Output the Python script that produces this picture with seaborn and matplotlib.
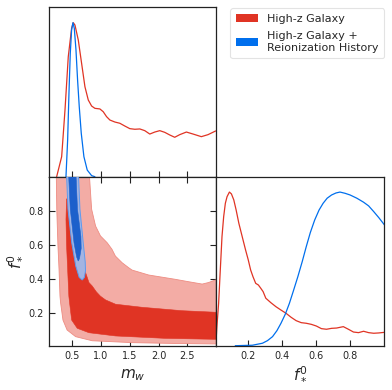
import numpy as np
import pandas as pd
import matplotlib
matplotlib.use("Agg")
import matplotlib.pyplot as plt
import seaborn as sns
from matplotlib.patches import Patch

sns.set_style("ticks")
plt.rcParams["font.family"] = ["DejaVu Sans"]
plt.rcParams["mathtext.fontset"] = "dejavusans"

# ---------------- data ----------------
# 1D marginal of m_w (normalised to peak = 1)
mw_red_x = [0.228, 0.315, 0.373, 0.430, 0.488, 0.517, 0.546, 0.604, 0.662, 0.720, 0.778, 0.836,
            0.893, 0.980, 1.038, 1.096, 1.154, 1.241, 1.327, 1.414, 1.501, 1.588, 1.675, 1.761,
            1.848, 1.935, 2.022, 2.109, 2.195, 2.282, 2.369, 2.485, 2.601, 2.745, 2.861, 2.994]
mw_red_y = [0.0, 0.13, 0.433, 0.779, 0.964, 1.0, 0.985, 0.888, 0.736, 0.584, 0.498, 0.459,
            0.444, 0.44, 0.422, 0.39, 0.368, 0.355, 0.347, 0.329, 0.312, 0.308, 0.31, 0.299,
            0.277, 0.29, 0.299, 0.288, 0.271, 0.256, 0.273, 0.29, 0.277, 0.26, 0.273, 0.297]
mw_blue_x = [0.39, 0.419, 0.442, 0.465, 0.488, 0.511, 0.535, 0.564, 0.592, 0.621, 0.656, 0.702,
             0.76, 0.836, 0.893]
mw_blue_y = [0.0, 0.238, 0.541, 0.801, 0.953, 1.0, 0.963, 0.823, 0.628, 0.455, 0.282, 0.13,
             0.043, 0.007, 0.0]

# 1D marginal of f_*^0 (normalised to peak = 1)
fs_red_x = [0.0095, 0.0154, 0.0254, 0.0353, 0.0453, 0.0552, 0.0651, 0.0751, 0.089, 0.1009, 0.1148,
            0.1287, 0.1446, 0.1644, 0.1843, 0.2002, 0.2141, 0.228, 0.2439, 0.2598, 0.2737, 0.2876,
            0.3035, 0.3333, 0.3631, 0.3929, 0.4227, 0.4525, 0.4823, 0.5121, 0.5419, 0.5717,
            0.6015, 0.6313, 0.6611, 0.691, 0.7208, 0.7604, 0.7902, 0.82, 0.8498, 0.8796, 0.9094,
            0.9392, 0.969, 1.0028]
fs_red_y = [0.016, 0.124, 0.276, 0.493, 0.71, 0.84, 0.927, 0.97, 1.0, 0.988, 0.949,
            0.883, 0.797, 0.71, 0.623, 0.558, 0.493, 0.449, 0.406, 0.395, 0.374, 0.352,
            0.309, 0.28, 0.254, 0.232, 0.211, 0.185, 0.163, 0.15, 0.146, 0.139,
            0.128, 0.111, 0.107, 0.113, 0.115, 0.124, 0.107, 0.089, 0.085, 0.094, 0.085,
            0.081, 0.083, 0.087]
fs_blue_x = [0.1235, 0.224, 0.2836, 0.3134, 0.3432, 0.369, 0.3929, 0.4187, 0.4426, 0.4664, 0.4922,
             0.518, 0.5419, 0.5657, 0.5915, 0.6173, 0.6412, 0.665, 0.691, 0.7168, 0.7406, 0.7704,
             0.8002, 0.84, 0.8796, 0.9094, 0.9392, 0.969, 1.0028]
fs_blue_y = [0.0, 0.003, 0.016, 0.033, 0.059, 0.098, 0.146, 0.206, 0.276, 0.358, 0.449,
             0.547, 0.645, 0.736, 0.818, 0.883, 0.927, 0.96, 0.981, 0.994, 1.0, 0.992,
             0.981, 0.96, 0.934, 0.91, 0.873, 0.834, 0.786]

# 2D credible-region boundaries (m_w, f_*^0)
red_outer_x = [0.22, 0.23, 0.25, 0.27, 0.286, 0.298, 0.338, 0.41, 0.558, 0.846, 1.54, 2.3, 3.05,
               3.05, 2.99, 2.87, 2.76, 2.52, 2.29, 1.83, 1.54, 1.48, 1.367, 1.25, 1.19, 1.107,
               0.99, 0.905, 0.836, 0.79]
red_outer_y = [1.05, 0.81, 0.6, 0.453, 0.30, 0.258, 0.16, 0.102, 0.063, 0.039, 0.028, 0.023, 0.02,
               0.395, 0.395, 0.38, 0.371, 0.385, 0.399, 0.424, 0.453, 0.467, 0.496, 0.535, 0.575,
               0.613, 0.653, 0.711, 0.81, 1.05]
red_inner_x = [0.40, 0.39, 0.40, 0.42, 0.44, 0.454, 0.489, 0.586, 0.79, 1.253, 2.12, 3.05,
               3.05, 2.99, 2.41, 1.715, 1.253, 1.08, 0.99, 0.92, 0.846, 0.79, 0.73, 0.70, 0.66,
               0.6, 0.55]
red_inner_y = [0.87, 0.75, 0.6, 0.45, 0.3, 0.258, 0.16, 0.112, 0.086, 0.067, 0.053, 0.047,
               0.206, 0.206, 0.215, 0.235, 0.253, 0.278, 0.30, 0.325, 0.36, 0.38, 0.44, 0.516, 0.6,
               0.75, 0.87]
blue_outer_x = [0.395, 0.425, 0.49, 0.56, 0.62, 0.673, 0.71, 0.73, 0.725, 0.69, 0.633, 0.603]
blue_outer_y = [1.05, 0.81, 0.613, 0.477, 0.41, 0.395, 0.41, 0.45, 0.5, 0.613, 0.81, 1.05]
blue_inner_x = [0.43, 0.465, 0.53, 0.575, 0.603, 0.625, 0.655, 0.65, 0.59, 0.56]
blue_inner_y = [1.05, 0.81, 0.613, 0.53, 0.506, 0.52, 0.58, 0.65, 0.81, 1.05]

mw_ticks = [0.5, 1.0, 1.5, 2.0, 2.5]
fs_ticks = [0.2, 0.4, 0.6, 0.8]
mw_lim = (0.1, 3.0)
fs_lim = (0.01, 1.0)

legend_labels = ["High-z Galaxy", "High-z Galaxy +\nReionization History"]

RED = "#E03424"
BLUE = "#006FED"
RED_LIGHT = "#F3ACA5"
RED_DARK = "#E03424"
BLUE_LIGHT = "#A2B4E2"
BLUE_DARK = "#1D60CB"

# ---------------- figure ----------------
W, H = 392, 390
fig = plt.figure(figsize=(W / 100, H / 100), dpi=100)
L, R = 49.3, 384.0
MID_X = 216.0
TOP, MID_Y, BOT = 7.3, 176.7, 345.7

ax_top = fig.add_axes([L / W, 1 - MID_Y / H, (MID_X - L) / W, (MID_Y - TOP) / H])
ax_2d = fig.add_axes([L / W, 1 - BOT / H, (MID_X - L) / W, (BOT - MID_Y) / H])
ax_r = fig.add_axes([MID_X / W, 1 - BOT / H, (R - MID_X) / W, (BOT - MID_Y) / H])

lw1 = 0.9
sns.lineplot(x=mw_red_x, y=mw_red_y, ax=ax_top, color=RED, lw=lw1, sort=False)
sns.lineplot(x=mw_blue_x, y=mw_blue_y, ax=ax_top, color=BLUE, lw=lw1, sort=False)
sns.lineplot(x=fs_red_x, y=fs_red_y, ax=ax_r, color=RED, lw=lw1, sort=False)
sns.lineplot(x=fs_blue_x, y=fs_blue_y, ax=ax_r, color=BLUE, lw=lw1, sort=False)

ax_2d.fill(red_outer_x, red_outer_y, facecolor=RED_LIGHT, edgecolor="#EE8C82", lw=0.6, zorder=1)
ax_2d.fill(red_inner_x, red_inner_y, facecolor=RED_DARK, edgecolor=RED_DARK, lw=0.4, zorder=2)
ax_2d.fill(blue_outer_x, blue_outer_y, facecolor=BLUE_LIGHT, edgecolor="#5C9BF0", lw=0.7, zorder=3)
ax_2d.fill(blue_inner_x, blue_inner_y, facecolor=BLUE_DARK, edgecolor=BLUE_DARK, lw=0.4, zorder=4)

# axes settings
for ax in (ax_top, ax_2d, ax_r):
    for s in ax.spines.values():
        s.set_visible(True)
        s.set_linewidth(0.9)
        s.set_color("#222222")
    ax.tick_params(direction="in", length=4, width=0.8, labelsize=7, color="#222222", pad=4)

ax_top.set_xlim(mw_lim)
ax_top.set_ylim(0, 1.1)
ax_top.set_xticks(mw_ticks)
ax_top.set_xticklabels([])
ax_top.set_yticks([])
ax_top.set_xlabel("")
ax_top.set_ylabel("")

ax_2d.set_xlim(mw_lim)
ax_2d.set_ylim(fs_lim)
ax_2d.set_xticks(mw_ticks)
ax_2d.set_yticks(fs_ticks)
ax_2d.tick_params(top=True, right=True)
ax_2d.set_xlabel(r"$m_w$", fontsize=11, labelpad=4)
ax_2d.set_ylabel(r"$f_*^0$", fontsize=11, labelpad=4)

ax_r.set_xlim(fs_lim)
ax_r.set_ylim(0, 1.1)
ax_r.set_xticks(fs_ticks)
ax_r.set_yticks([])
ax_r.set_xlabel(r"$f_*^0$", fontsize=11, labelpad=2.5)
ax_r.set_ylabel("")

handles = [Patch(facecolor=RED, edgecolor="none"), Patch(facecolor=BLUE, edgecolor="none")]
leg = fig.legend(handles, legend_labels, loc="upper right",
                 bbox_to_anchor=(R / W, 1 - 8.3 / H), borderaxespad=0,
                 fontsize=8, frameon=True, fancybox=True, handlelength=2.0,
                 handletextpad=0.8, labelspacing=0.65, borderpad=0.5)
leg.get_frame().set_edgecolor("#DDDDDD")
leg.get_frame().set_linewidth(0.8)

fig.savefig("out.png", dpi=100)
